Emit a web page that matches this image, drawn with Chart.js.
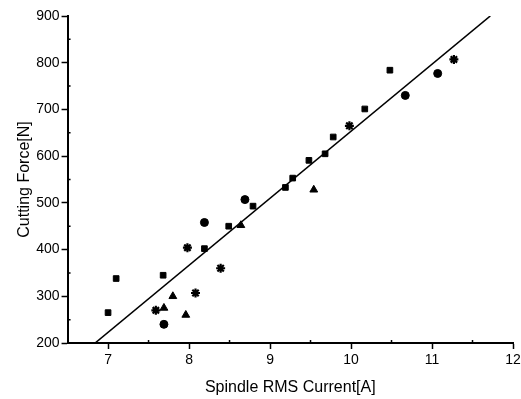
<!DOCTYPE html>
<html>
<head>
<meta charset="utf-8">
<script src="https://cdn.jsdelivr.net/npm/chart.js@4/dist/chart.umd.min.js"></script>
<style>
  html, body { margin: 0; padding: 0; background: #fff; }
  #wrap { width: 521px; height: 399px; position: relative; }
</style>
</head>
<body>
<div id="wrap"><canvas id="chart"></canvas></div>
<script>
// values
const squares = [[7.0, 265], [7.1, 338], [7.68, 345], [8.19, 402], [8.49, 450], [8.79, 493], [9.19, 533], [9.28, 553], [9.48, 591], [9.68, 605], [9.78, 641], [10.17, 701], [10.48, 784]];
const circles = [[7.69, 240], [8.19, 458], [8.69, 507], [10.67, 730], [11.07, 777]];
const triangles = [[7.69, 275], [7.8, 300], [7.96, 260], [8.64, 452], [9.54, 528]];
const stars = [[7.59, 270], [7.98, 404], [8.08, 307], [8.39, 360], [9.98, 665], [11.27, 807]];
const fitLine = [[6.84, 200], [11.72, 900]];

const xTicks = [7, 8, 9, 10, 11, 12];
const yTicks = [200, 300, 400, 500, 600, 700, 800, 900];
const xMinor = [7.5, 8.5, 9.5, 10.5, 11.5];
const yMinor = [250, 350, 450, 550, 650, 750, 850];

const toPts = arr => arr.map(p => ({ x: p[0], y: p[1] }));

const minorTicks = {
    id: 'minorTicks',
    afterDraw(chart) {
        const ctx = chart.ctx, xs = chart.scales.x, ys = chart.scales.y;
        ctx.save();
        ctx.strokeStyle = '#000';
        ctx.lineWidth = 1.5;
        ctx.beginPath();
        xMinor.forEach(v => {
            const px = xs.getPixelForValue(v);
            ctx.moveTo(px, ys.bottom); ctx.lineTo(px, ys.bottom - 3);
        });
        yMinor.forEach(v => {
            const py = ys.getPixelForValue(v);
            ctx.moveTo(xs.left, py); ctx.lineTo(xs.left + 3, py);
        });
        ctx.stroke();
        ctx.restore();
    }
};

const markerBase = { backgroundColor: '#000', borderColor: '#000', pointRadius: 4, pointHoverRadius: 4 };
const tickFont = { family: 'Liberation Sans', size: 14 };
const titleFont = { family: 'Liberation Sans', size: 16 };

new Chart(document.getElementById('chart'), {
    type: 'scatter',
    data: {
        datasets: [
            { label: 'fit', data: toPts(fitLine), showLine: true, pointRadius: 0, borderColor: '#000', borderWidth: 1.6 },
            { ...markerBase, label: 'squares', data: toPts(squares), pointStyle: 'rect' },
            { ...markerBase, label: 'circles', data: toPts(circles), pointStyle: 'circle' },
            { ...markerBase, label: 'triangles', data: toPts(triangles), pointStyle: 'triangle', pointRadius: 4.5 },
            { ...markerBase, label: 'stars', data: toPts(stars), pointStyle: 'star', pointRadius: 4.5, borderWidth: 2.2 }
        ]
    },
    options: {
        responsive: true,
        maintainAspectRatio: false,
        animation: false,
        layout: { padding: { top: 16, right: 0, left: 15, bottom: 2 } },
        plugins: { legend: { display: false }, tooltip: { enabled: false } },
        scales: {
            x: {
                type: 'linear', min: 6.5, max: 12,
                afterBuildTicks: s => { s.ticks = xTicks.map(v => ({ value: v })); },
                afterFit: s => { s.paddingRight = 8; },
                border: { color: '#000', width: 2 },
                grid: { drawOnChartArea: false, color: '#000', tickLength: 6, tickWidth: 1.5 },
                ticks: { color: '#000', font: tickFont, padding: 3, maxRotation: 0 },
                title: { display: true, text: 'Spindle RMS Current[A]', color: '#000', font: titleFont, padding: { top: 6, bottom: 0 } }
            },
            y: {
                type: 'linear', min: 200, max: 900,
                afterBuildTicks: s => { s.ticks = yTicks.map(v => ({ value: v })); },
                border: { color: '#000', width: 2 },
                grid: { drawOnChartArea: false, color: '#000', tickLength: 6, tickWidth: 1.5 },
                ticks: { color: '#000', font: tickFont, padding: 2 },
                title: { display: true, text: 'Cutting Force[N]', color: '#000', font: titleFont, padding: { top: 0, bottom: 0 } }
            }
        }
    },
    plugins: [minorTicks]
});
</script>
</body>
</html>
